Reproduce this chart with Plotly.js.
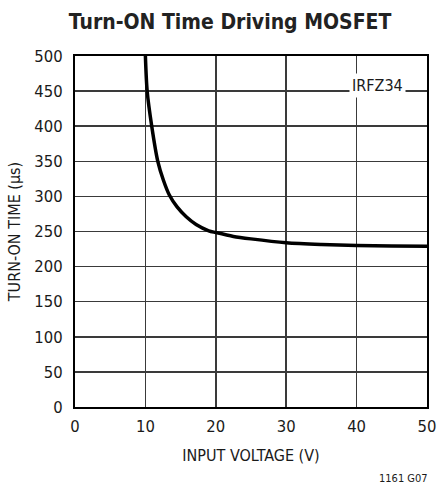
<!DOCTYPE html>
<html>
<head>
<meta charset="utf-8">
<script src="https://cdn.plot.ly/plotly-3.0.1.min.js"></script>
<style>html,body{margin:0;padding:0;background:#fff;}#chart{width:440px;height:485px;}</style>
</head>
<body>
<div id="chart"></div>
<script>
const inputVoltage = [10.0, 10.25, 10.9, 11.76, 12.56, 13.4, 14.5, 15.8, 17.2, 19.0, 20.0, 22.5, 25, 30, 35, 40, 45, 50];
const turnOnTime  = [500, 450, 400, 350, 323, 302, 285, 271, 260, 251, 248.5, 243, 239.5, 234, 231.5, 230, 229.3, 229];
const xTicks = [0, 10, 20, 30, 40, 50];
const yTicks = [0, 50, 100, 150, 200, 250, 300, 350, 400, 450, 500];
const curveLabel = 'IRFZ34';
const figureCode = '1161 G07';

const FONT = 'DejaVu Sans Condensed, Liberation Sans Narrow, sans-serif';
const GRID = '#3a3a3a';
const TXT = '#1a1a1a';

const trace = {
  x: inputVoltage, y: turnOnTime, type: 'scatter', mode: 'lines',
  line: {color: '#000', width: 3.5, shape: 'spline', smoothing: 0.8},
  hoverinfo: 'skip', cliponaxis: true
};

const layout = {
  width: 440, height: 485,
  margin: {l: 75, r: 13, t: 56, b: 78},
  paper_bgcolor: '#fff', plot_bgcolor: '#fff',
  showlegend: false,
  font: {family: FONT, color: TXT, size: 16},
  title: {text: '<b>Turn-ON Time Driving MOSFET</b>', font: {family: FONT, size: 21, color: '#222'},
          x: 0.523, xanchor: 'center', y: 0.955, yanchor: 'middle', xref: 'container', yref: 'container'},
  xaxis: {
    range: [0, 50], tickvals: xTicks, ticktext: xTicks.map(String),
    showgrid: true, gridcolor: GRID, gridwidth: 1.5,
    showline: true, linecolor: '#000', linewidth: 2, mirror: true,
    ticks: '', ticklen: 0, zeroline: false, ticklabelstandoff: 3,
    tickfont: {family: FONT, size: 16.5, color: TXT},
    title: {text: 'INPUT VOLTAGE (V)', font: {family: FONT, size: 16, color: TXT}, standoff: 15},
    fixedrange: true
  },
  yaxis: {
    range: [0, 500], tickvals: yTicks, ticktext: yTicks.map(String),
    showgrid: true, gridcolor: GRID, gridwidth: 1.5,
    showline: true, linecolor: '#000', linewidth: 2, mirror: true,
    ticks: '', ticklen: 0, zeroline: false, ticklabelstandoff: 7,
    tickfont: {family: FONT, size: 16.5, color: TXT},
    title: {text: 'TURN-ON TIME (µs)', font: {family: FONT, size: 16, color: TXT}, standoff: 10},
    fixedrange: true
  },
  annotations: [
    {x: 42.9, y: 450, xref: 'x', yref: 'y', text: curveLabel, showarrow: false,
     xanchor: 'center', yanchor: 'middle', yshift: 6, bgcolor: '#fff', borderpad: 2,
     font: {family: FONT, size: 16, color: TXT}},
    {x: 1.0, y: -0.205, xref: 'paper', yref: 'paper', text: figureCode, showarrow: false,
     xanchor: 'right', yanchor: 'middle', xshift: 3, font: {family: FONT, size: 11, color: TXT}}
  ]
};

Plotly.newPlot('chart', [trace], layout, {staticPlot: true, displayModeBar: false});
</script>
</body>
</html>
